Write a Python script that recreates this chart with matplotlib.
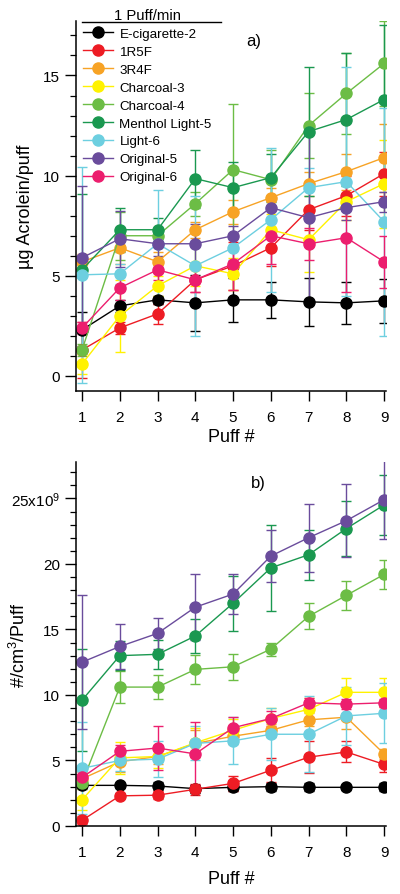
import matplotlib
matplotlib.use("Agg")
import matplotlib.pyplot as plt
from matplotlib.lines import Line2D
from matplotlib.ticker import MultipleLocator, FixedLocator, FixedFormatter

plt.rcParams['font.family'] = ['Liberation Sans', 'DejaVu Sans']
plt.rcParams['mathtext.fontset'] = 'custom'
plt.rcParams['mathtext.rm'] = 'Liberation Sans'
plt.rcParams['mathtext.it'] = 'Liberation Sans'

puffs = [1, 2, 3, 4, 5, 6, 7, 8, 9]
names = ["E-cigarette-2", "1R5F", "3R4F", "Charcoal-3", "Charcoal-4",
         "Menthol Light-5", "Light-6", "Original-5", "Original-6"]
colors = ["#000000", "#ed1c24", "#f7a325", "#fff200", "#6cbd45",
          "#1a9850", "#6dcfe0", "#6a4c9c", "#ec1e6e"]

# Panel a) ug Acrolein/puff
acro = {
    "E-cigarette-2":   [2.3, 3.5, 3.8, 3.65, 3.8, 3.8, 3.7, 3.65, 3.75],
    "1R5F":            [1.3, 2.4, 3.1, 4.8, 5.5, 6.4, 8.3, 9.0, 10.1],
    "3R4F":            [5.7, 6.4, 5.7, 7.3, 8.2, 8.9, 9.6, 10.2, 10.9],
    "Charcoal-3":      [0.6, 3.0, 4.5, 5.5, 5.1, 7.3, 6.8, 8.7, 9.6],
    "Charcoal-4":      [1.3, 7.0, 7.0, 8.6, 10.3, 9.8, 12.5, 14.1, 15.6],
    "Menthol Light-5": [5.3, 7.3, 7.3, 9.85, 9.4, 9.9, 12.2, 12.8, 13.8],
    "Light-6":         [5.05, 5.1, 6.6, 5.5, 6.4, 7.8, 9.4, 9.7, 7.7],
    "Original-5":      [5.9, 6.85, 6.6, 6.6, 7.0, 8.4, 7.9, 8.4, 8.7],
    "Original-6":      [2.4, 4.4, 5.3, 4.8, 5.6, 7.0, 6.6, 6.9, 5.7],
}
acro_err = {
    "E-cigarette-2":   [0.9, 0.3, 0.2, 1.4, 1.1, 0.9, 1.2, 1.05, 1.1],
    "1R5F":            [1.4, 0.3, 0.5, 0.6, 1.2, 0.9, 1.0, 1.0, 1.1],
    "3R4F":            [0.4, 0.8, 0.5, 0.4, 0.6, 0.5, 0.6, 0.9, 1.7],
    "Charcoal-3":      [0.5, 1.8, 0.5, 1.0, 0.8, 0.8, 1.6, 0.9, 2.2],
    "Charcoal-4":      [0.3, 1.2, 0.4, 0.6, 3.3, 1.5, 1.6, 2.0, 2.1],
    "Menthol Light-5": [3.8, 1.1, 0.6, 1.45, 1.3, 1.2, 3.2, 3.3, 3.7],
    "Light-6":         [5.4, 0.5, 2.7, 3.5, 0.6, 3.6, 1.0, 5.7, 5.7],
    "Original-5":      [3.6, 1.4, 0.6, 1.0, 0.5, 0.6, 4.2, 0.6, 0.5],
    "Original-6":      [0.3, 0.6, 0.5, 0.6, 1.3, 1.4, 0.8, 2.7, 1.3],
}

# Panel b) particles #/cm3/Puff (x1e9)
part = {
    "E-cigarette-2":   [3.1, 3.1, 3.05, 2.85, 2.95, 3.0, 2.95, 2.95, 2.95],
    "1R5F":            [0.43, 2.3, 2.35, 2.8, 3.25, 4.25, 5.25, 5.65, 4.7],
    "3R4F":            [3.6, 4.9, 5.3, 6.3, 6.85, 7.3, 8.1, 8.3, 5.5],
    "Charcoal-3":      [2.0, 5.2, 5.3, 6.35, 7.3, 8.2, 8.9, 10.2, 10.2],
    "Charcoal-4":      [3.3, 10.6, 10.6, 11.95, 12.15, 13.5, 16.0, 17.6, 19.2],
    "Menthol Light-5": [9.6, 13.0, 13.1, 14.5, 17.0, 19.7, 20.7, 22.7, 24.5],
    "Light-6":         [4.4, 5.0, 5.1, 6.3, 6.5, 7.0, 7.0, 8.4, 8.6],
    "Original-5":      [12.5, 13.7, 14.7, 16.7, 17.7, 20.6, 22.0, 23.3, 24.9],
    "Original-6":      [3.7, 5.7, 5.95, 5.5, 7.5, 8.2, 9.4, 9.3, 9.4],
}
part_err = {
    "E-cigarette-2":   [0.2, 0.2, 0.3, 0.3, 0.3, 0.3, 0.3, 0.2, 0.3],
    "1R5F":            [0.3, 0.2, 0.3, 0.4, 0.6, 0.9, 1.2, 0.8, 0.6],
    "3R4F":            [0.5, 0.8, 0.6, 1.0, 0.6, 0.5, 0.5, 0.9, 0.4],
    "Charcoal-3":      [0.8, 1.2, 0.9, 1.1, 0.9, 0.8, 0.9, 1.1, 1.1],
    "Charcoal-4":      [0.5, 1.2, 0.9, 1.1, 1.0, 0.5, 1.0, 1.1, 1.1],
    "Menthol Light-5": [3.9, 1.1, 1.1, 1.3, 2.1, 3.3, 1.9, 2.1, 2.3],
    "Light-6":         [3.5, 0.8, 1.4, 1.3, 1.8, 2.0, 2.9, 2.2, 2.3],
    "Original-5":      [5.1, 1.7, 1.2, 2.5, 1.55, 2.0, 2.6, 2.8, 3.0],
    "Original-6":      [0.5, 0.5, 1.7, 2.4, 0.8, 0.6, 0.4, 0.4, 0.3],
}

fig = plt.figure(figsize=(4.0, 8.95), dpi=100)
ax1 = fig.add_axes([0.19, 0.562, 0.775, 0.413])
ax2 = fig.add_axes([0.19, 0.076, 0.775, 0.407])

def style(ax):
    for s in ("top", "right"):
        ax.spines[s].set_visible(False)
    ax.spines["left"].set_linewidth(1.1)
    ax.spines["bottom"].set_linewidth(1.1)
    ax.tick_params(axis="y", which="major", direction="out", length=8,
                   width=1.0, labelsize=11, pad=3.5)
    ax.tick_params(axis="x", which="major", direction="out", length=7.5,
                   width=1.0, labelsize=11, pad=6)
    ax.tick_params(axis="y", which="minor", direction="out", length=4.3, width=0.9)
    ax.yaxis.set_minor_locator(MultipleLocator(1))
    ax.set_xticks(puffs)
    ax.set_xlim(0.84, 9.05)

def draw(ax, data, err):
    for name, c in zip(names, colors):
        ax.errorbar(puffs, data[name], yerr=err[name], color=c, marker="o",
                    markersize=8, linewidth=1.0, elinewidth=1.0, capsize=3.8,
                    capthick=1.0, label=name, mec=c, mfc=c)

draw(ax1, acro, acro_err)
style(ax1)
ax1.set_ylim(-0.75, 17.7)
ax1.set_yticks([0, 5, 10, 15])
ax1.set_ylabel("µg Acrolein/puff", fontsize=13)
ax1.yaxis.set_label_coords(-0.135, 0.5)
ax1.set_xlabel("Puff #", fontsize=13, labelpad=3)
ax1.text(0.55, 0.935, "a)", transform=ax1.transAxes, fontsize=12)

handles, labels = ax1.get_legend_handles_labels()
line_handles = [h[0] for h in handles]
leg = ax1.legend(line_handles, labels, loc="upper left",
                 bbox_to_anchor=(0.207, 0.9900),
                 bbox_transform=fig.transFigure, frameon=False,
                 title="1 Puff/min", fontsize=9.6, title_fontsize=10.7,
                 handlelength=2.25, handletextpad=0.5, labelspacing=0.42,
                 borderpad=0.0, borderaxespad=0.0)
leg._legend_box.align = "center"
fig.add_artist(Line2D([0.205, 0.552], [0.9745, 0.9745], transform=fig.transFigure,
                      color="black", linewidth=1.0))

draw(ax2, part, part_err)
style(ax2)
ax2.set_ylim(0, 27.8)
ax2.yaxis.set_major_locator(FixedLocator([0, 5, 10, 15, 20, 25]))
ax2.yaxis.set_major_formatter(FixedFormatter(["0", "5", "10", "15", "20", "25x10$^{9}$"]))
ax2.set_ylabel("#/cm$^{3}$/Puff", fontsize=13)
ax2.yaxis.set_label_coords(-0.15, 0.5)
ax2.set_xlabel("Puff #", fontsize=13, labelpad=8)
ax2.text(0.565, 0.93, "b)", transform=ax2.transAxes, fontsize=12)

fig.savefig("out.png", dpi=100)
